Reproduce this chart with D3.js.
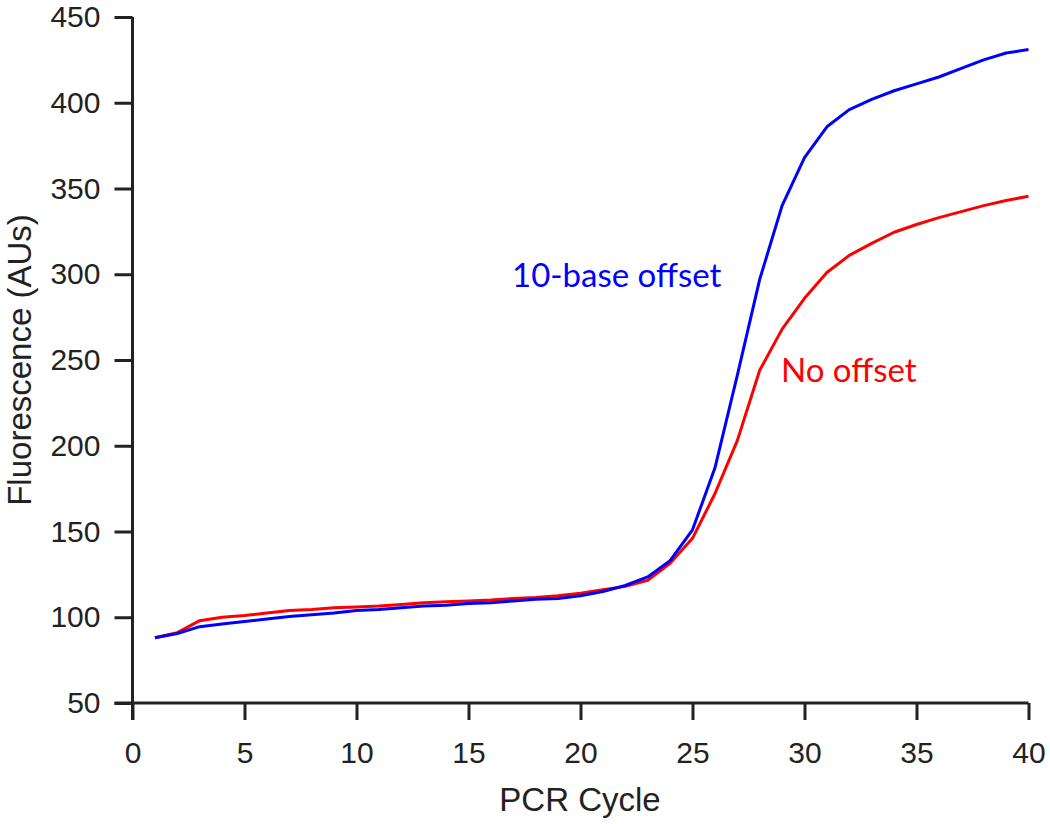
<!DOCTYPE html>
<html>
<head>
<meta charset="utf-8">
<script src="https://cdn.jsdelivr.net/npm/d3@7"></script>
<style>
  html, body { margin: 0; padding: 0; background: #fff; }
  svg { display: block; }
</style>
</head>
<body>
<svg id="chart" width="1050" height="824"></svg>
<script>
const cycles = d3.range(1, 41);
const offset10 = [88, 90.5, 94.5, 96, 97.5, 99, 100.5, 101.5, 102.5, 104,
  104.5, 105.5, 106.5, 107, 108, 108.5, 109.5, 110.5, 111, 112.5,
  115, 118.5, 123.5, 133, 151, 187, 241, 297, 340, 368,
  386, 396, 402, 407, 411, 415, 420, 425, 429, 431];
const noOffset = [88, 91, 98, 100, 101, 102.5, 104, 104.5, 105.5, 106,
  106.5, 107.5, 108.5, 109, 109.5, 110, 111, 111.5, 112.5, 114,
  116, 118, 121.5, 131.5, 146, 172, 203, 244, 268, 286,
  301, 311, 318, 324.5, 329, 333, 336.5, 340, 343, 345.5];
const xTicks = [0, 5, 10, 15, 20, 25, 30, 35, 40];
const yTicks = [50, 100, 150, 200, 250, 300, 350, 400, 450];

const svg = d3.select("#chart");
const mLeft = 132.5, mRight = 1028.5, mTop = 17, mBottom = 703;
const x = d3.scaleLinear().domain([0, 40]).range([mLeft, mRight]);
const y = d3.scaleLinear().domain([50, 450]).range([mBottom, mTop]);

const axisColor = "#222";
const tickFont = "'Liberation Sans', Arial, sans-serif";

const gx = svg.append("g").attr("transform", `translate(0,${mBottom})`)
  .call(d3.axisBottom(x).tickValues(xTicks).tickSize(17).tickPadding(22).tickSizeOuter(0));
const gy = svg.append("g").attr("transform", `translate(${mLeft},0)`)
  .call(d3.axisLeft(y).tickValues(yTicks).tickSize(18).tickPadding(14).tickSizeOuter(0));

[gx, gy].forEach(g => {
  g.select(".domain").attr("stroke", axisColor).attr("stroke-width", 3);
  g.selectAll(".tick line").attr("stroke", axisColor).attr("stroke-width", 3);
  g.selectAll(".tick text").attr("fill", "#222")
    .style("font-family", tickFont).style("font-size", "30px");
});
gx.select(".domain").attr("d", `M${mLeft - 18},0H${mRight}`);
gy.select(".domain").attr("d", `M0,${mTop}V${mBottom + 17}`);

const line = d3.line().x((d, i) => x(cycles[i])).y(d => y(d));

svg.append("path").datum(noOffset)
  .attr("fill", "none").attr("stroke", "#ff0000").attr("stroke-width", 3)
  .attr("stroke-linejoin", "round").attr("d", line);
svg.append("path").datum(offset10)
  .attr("fill", "none").attr("stroke", "#0000ff").attr("stroke-width", 3)
  .attr("stroke-linejoin", "round").attr("d", line);

svg.append("text").attr("x", 580).attr("y", 811)
  .attr("text-anchor", "middle")
  .style("font-family", tickFont).style("font-size", "33px").attr("fill", "#222")
  .text("PCR Cycle");

svg.append("text")
  .attr("transform", "translate(31,360) rotate(-90)")
  .attr("text-anchor", "middle")
  .style("font-family", tickFont).style("font-size", "33px").attr("fill", "#222")
  .text("Fluorescence (AUs)");

const annFont = "Lato, 'Open Sans', sans-serif";
svg.append("text").attr("x", 512).attr("y", 287)
  .style("font-family", annFont).style("font-size", "33px").attr("fill", "#0000ff")
  .text("10-base offset");
svg.append("text").attr("x", 781).attr("y", 382)
  .style("font-family", annFont).style("font-size", "33px").attr("fill", "#ff0000")
  .text("No offset");
</script>
</body>
</html>
